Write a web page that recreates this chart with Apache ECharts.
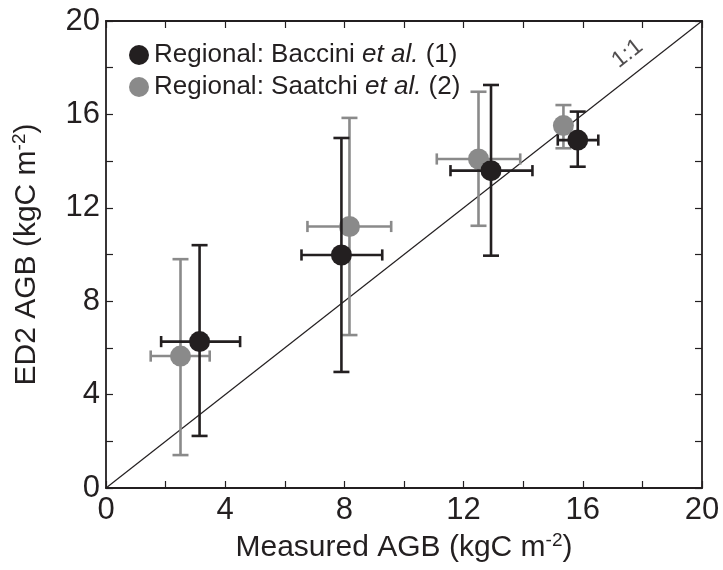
<!DOCTYPE html>
<html>
<head>
<meta charset="utf-8">
<script src="https://cdn.jsdelivr.net/npm/echarts@6/dist/echarts.min.js"></script>
<style>
  html, body { margin: 0; padding: 0; background: #fff; }
  #chart { width: 723px; height: 570px; }
</style>
</head>
<body>
<div id="chart"></div>
<script>
// Baccini et al. (1) – black
const baccX = [3.14, 7.9, 12.92, 15.83];
const baccY = [6.27, 9.98, 13.59, 14.9];
const baccXLo = [1.85, 6.56, 11.56, 15.16];
const baccXHi = [4.5, 9.27, 14.31, 16.52];
const baccYLo = [2.23, 4.97, 9.95, 13.76];
const baccYHi = [10.4, 14.99, 17.26, 16.12];

// Saatchi et al. (2) – grey
const saatX = [2.5, 8.17, 12.5, 15.35];
const saatY = [5.65, 11.2, 14.09, 15.52];
const saatXLo = [1.5, 6.76, 11.1, 15.2];
const saatXHi = [3.48, 9.57, 13.9, 15.5];
const saatYLo = [1.41, 6.55, 11.23, 14.55];
const saatYHi = [9.8, 15.85, 16.97, 16.4];

const oneToOne = [[0, 0], [20, 20]];
const oneToOneLabelAt = [17.5, 18.6];

const BLACK = '#231f20';
const GREY = '#8a8a8a';
const FONT = 'Liberation Sans, Arial, Helvetica, sans-serif';

function zipPoints(xs, ys) {
  return xs.map((x, i) => [x, ys[i]]);
}
function zipErrors(xs, ys, xlo, xhi, ylo, yhi) {
  return xs.map((x, i) => [x, ys[i], xlo[i], xhi[i], ylo[i], yhi[i]]);
}

function errorBars(color) {
  return function (params, api) {
    const c = api.coord([api.value(0), api.value(1)]);
    const l = api.coord([api.value(2), api.value(1)]);
    const r = api.coord([api.value(3), api.value(1)]);
    const b = api.coord([api.value(0), api.value(4)]);
    const t = api.coord([api.value(0), api.value(5)]);
    const cap = 8;
    const style = { stroke: color, lineWidth: 2.6 };
    const line = (x1, y1, x2, y2) => ({
      type: 'line', shape: { x1, y1, x2, y2 }, style
    });
    return {
      type: 'group',
      children: [
        line(l[0], c[1], r[0], c[1]),
        line(l[0], c[1] - cap * 0.7, l[0], c[1] + cap * 0.7),
        line(r[0], c[1] - cap * 0.7, r[0], c[1] + cap * 0.7),
        line(c[0], b[1], c[0], t[1]),
        line(c[0] - cap, b[1], c[0] + cap, b[1]),
        line(c[0] - cap, t[1], c[0] + cap, t[1])
      ]
    };
  };
}

// axis titles with a small raised "-2"
const nameRich = {
  t: { fontFamily: FONT, fontSize: 30, color: BLACK, lineHeight: 32 },
  s: { fontFamily: FONT, fontSize: 19, color: BLACK, lineHeight: 32, padding: [0, 0, 14, 0] }
};

const axisCommon = {
  type: 'value', min: 0, max: 20, interval: 2,
  axisLine: { onZero: false, lineStyle: { color: BLACK, width: 1.8 } },
  axisTick: { inside: true, length: 7, lineStyle: { color: BLACK, width: 1.2 } },
  splitLine: { show: false }
};

const chart = echarts.init(document.getElementById('chart'));
chart.setOption({
  animation: false,
  backgroundColor: '#fff',
  grid: { left: 106, right: 21, top: 21, bottom: 82 },
  legend: {
    left: 124, top: 37, orient: 'vertical', itemGap: 6,
    icon: 'circle', itemWidth: 20, itemHeight: 20,
    data: ['Regional: Baccini', 'Regional: Saatchi'],
    formatter: name => name === 'Regional: Baccini'
      ? '{n|Regional: Baccini }{i|et al.}{n| (1)}'
      : '{n|Regional: Saatchi }{i|et al.}{n| (2)}',
    textStyle: {
      padding: [0, 0, 0, 0],
      rich: {
        n: { fontFamily: FONT, fontSize: 26, color: BLACK, lineHeight: 26 },
        i: { fontFamily: FONT, fontSize: 26, color: BLACK, lineHeight: 26, fontStyle: 'italic' }
      }
    }
  },
  xAxis: [
    Object.assign({}, axisCommon, {
      position: 'bottom',
      name: '{t|Measured AGB (kgC m}{s|-2}{t|)}', nameLocation: 'middle', nameGap: 39,
      nameTextStyle: { rich: nameRich },
      axisLabel: {
        fontFamily: FONT, fontSize: 31, color: BLACK, margin: 7,
        formatter: v => (v % 4 === 0 ? String(v) : '')
      }
    }),
    Object.assign({}, axisCommon, { position: 'top', axisLabel: { show: false } })
  ],
  yAxis: [
    Object.assign({}, axisCommon, {
      position: 'left',
      name: '{t|ED2 AGB (kgC m}{s|-2}{t|)}', nameLocation: 'middle', nameGap: 63,
      nameTextStyle: { rich: nameRich },
      axisLabel: {
        fontFamily: FONT, fontSize: 31, color: BLACK, margin: 6,
        formatter: v => (v % 4 === 0 ? String(v) : '')
      }
    }),
    Object.assign({}, axisCommon, { position: 'right', axisLabel: { show: false } })
  ],
  series: [
    {
      type: 'line', data: oneToOne, symbol: 'none', silent: true,
      lineStyle: { color: BLACK, width: 1.2 }, z: 1
    },
    {
      type: 'scatter', data: [oneToOneLabelAt], symbolSize: 0, silent: true,
      label: {
        show: true, position: 'inside', rotate: 38, formatter: '1:1',
        fontFamily: FONT, fontSize: 23, color: BLACK
      }, z: 1
    },
    {
      type: 'custom', renderItem: errorBars(GREY),
      data: zipErrors(saatX, saatY, saatXLo, saatXHi, saatYLo, saatYHi), z: 2
    },
    {
      name: 'Regional: Saatchi', type: 'scatter',
      data: zipPoints(saatX, saatY), symbolSize: 21,
      itemStyle: { color: GREY, opacity: 1 }, z: 3
    },
    {
      type: 'custom', renderItem: errorBars(BLACK),
      data: zipErrors(baccX, baccY, baccXLo, baccXHi, baccYLo, baccYHi), z: 4
    },
    {
      name: 'Regional: Baccini', type: 'scatter',
      data: zipPoints(baccX, baccY), symbolSize: 21,
      itemStyle: { color: BLACK, opacity: 1 }, z: 5
    }
  ]
});
</script>
</body>
</html>
